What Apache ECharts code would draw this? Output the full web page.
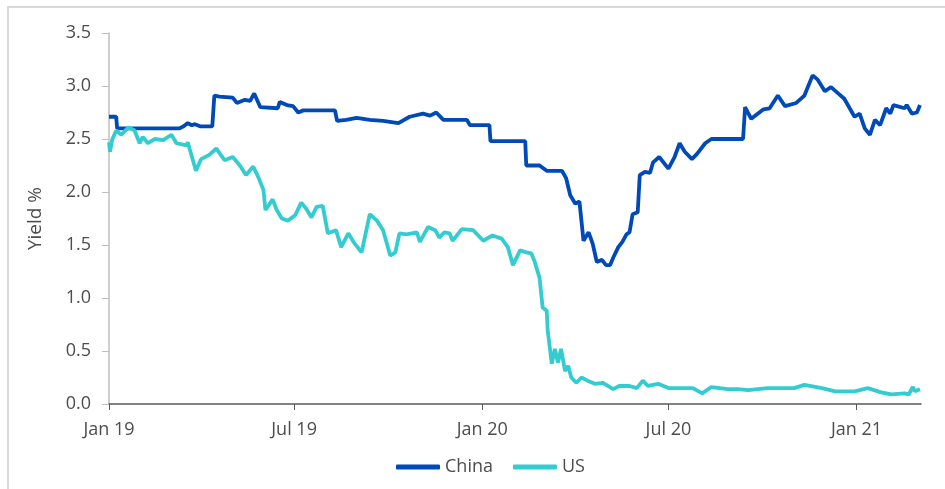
<!DOCTYPE html>
<html>
<head>
<meta charset="utf-8">
<script src="https://cdn.jsdelivr.net/npm/echarts@6/dist/echarts.min.js"></script>
<style>
  html, body { margin: 0; padding: 0; background: #fff; }
  #chart { width: 945px; height: 489px; }
</style>
</head>
<body>
<div id="chart"></div>
<script>
  // China yield (date, %)
  var chinaDates = ['2019-01-01','2019-01-08','2019-01-09','2019-03-11','2019-03-15','2019-03-19','2019-03-23','2019-03-26','2019-03-31','2019-04-12','2019-04-14','2019-04-19','2019-05-02','2019-05-06','2019-05-14','2019-05-19','2019-05-23','2019-05-29','2019-06-15','2019-06-17','2019-06-24','2019-06-30','2019-07-05','2019-07-10','2019-08-10','2019-08-12','2019-08-21','2019-08-31','2019-09-13','2019-09-26','2019-10-11','2019-10-22','2019-11-04','2019-11-11','2019-11-17','2019-11-24','2019-12-17','2019-12-20','2020-01-08','2020-01-09','2020-02-12','2020-02-13','2020-02-26','2020-03-04','2020-03-19','2020-03-23','2020-03-27','2020-04-01','2020-04-05','2020-04-09','2020-04-14','2020-04-18','2020-04-22','2020-04-27','2020-05-01','2020-05-05','2020-05-08','2020-05-13','2020-05-17','2020-05-21','2020-05-24','2020-05-27','2020-06-01','2020-06-03','2020-06-08','2020-06-13','2020-06-16','2020-06-22','2020-07-01','2020-07-07','2020-07-12','2020-07-17','2020-07-24','2020-07-29','2020-08-06','2020-08-12','2020-09-12','2020-09-14','2020-09-20','2020-10-02','2020-10-08','2020-10-16','2020-10-23','2020-11-03','2020-11-11','2020-11-19','2020-11-24','2020-12-01','2020-12-07','2020-12-14','2020-12-20','2020-12-30','2021-01-04','2021-01-09','2021-01-14','2021-01-19','2021-01-24','2021-01-30','2021-02-03','2021-02-06','2021-02-17','2021-02-19','2021-02-24','2021-03-01','2021-03-04'];
  var chinaValues = [2.71,2.71,2.60,2.60,2.62,2.65,2.63,2.64,2.62,2.62,2.91,2.90,2.89,2.84,2.87,2.86,2.93,2.80,2.79,2.85,2.82,2.81,2.75,2.77,2.77,2.67,2.68,2.70,2.68,2.67,2.65,2.71,2.74,2.72,2.75,2.68,2.68,2.63,2.63,2.48,2.48,2.25,2.25,2.20,2.20,2.13,1.97,1.89,1.91,1.54,1.62,1.51,1.34,1.36,1.31,1.31,1.38,1.48,1.53,1.60,1.62,1.79,1.81,2.16,2.19,2.18,2.28,2.33,2.22,2.33,2.46,2.38,2.31,2.36,2.46,2.50,2.50,2.80,2.69,2.78,2.79,2.91,2.81,2.84,2.91,3.10,3.06,2.95,2.99,2.93,2.88,2.71,2.74,2.60,2.54,2.68,2.63,2.79,2.74,2.82,2.79,2.82,2.74,2.75,2.82];

  // US yield (date, %)
  var usDates = ['2019-01-01','2019-01-02','2019-01-04','2019-01-08','2019-01-13','2019-01-20','2019-01-26','2019-01-31','2019-02-03','2019-02-08','2019-02-15','2019-02-23','2019-03-03','2019-03-08','2019-03-18','2019-03-19','2019-03-27','2019-04-01','2019-04-09','2019-04-16','2019-04-24','2019-05-02','2019-05-09','2019-05-15','2019-05-22','2019-05-27','2019-06-01','2019-06-03','2019-06-10','2019-06-14','2019-06-19','2019-06-25','2019-07-02','2019-07-08','2019-07-13','2019-07-18','2019-07-23','2019-07-29','2019-08-03','2019-08-11','2019-08-16','2019-08-23','2019-08-28','2019-09-05','2019-09-13','2019-09-20','2019-09-26','2019-10-03','2019-10-08','2019-10-12','2019-10-19','2019-10-29','2019-11-01','2019-11-09','2019-11-16','2019-11-20','2019-11-25','2019-11-30','2019-12-03','2019-12-12','2019-12-23','2020-01-02','2020-01-11','2020-01-20','2020-01-26','2020-01-31','2020-02-07','2020-02-13','2020-02-18','2020-02-21','2020-02-26','2020-02-29','2020-03-04','2020-03-05','2020-03-09','2020-03-12','2020-03-15','2020-03-18','2020-03-22','2020-03-25','2020-03-28','2020-04-02','2020-04-07','2020-04-13','2020-04-20','2020-04-28','2020-05-08','2020-05-14','2020-05-24','2020-05-31','2020-06-06','2020-06-11','2020-06-21','2020-07-01','2020-07-25','2020-08-03','2020-08-12','2020-08-28','2020-09-07','2020-09-17','2020-10-06','2020-10-19','2020-11-01','2020-11-11','2020-11-28','2020-12-11','2020-12-30','2021-01-12','2021-01-25','2021-02-04','2021-02-17','2021-02-21','2021-02-25','2021-02-27','2021-03-04'];
  var usValues = [2.47,2.38,2.49,2.58,2.54,2.61,2.58,2.46,2.52,2.46,2.50,2.49,2.54,2.46,2.44,2.47,2.20,2.31,2.35,2.41,2.30,2.33,2.25,2.16,2.24,2.14,2.02,1.83,1.93,1.83,1.75,1.73,1.78,1.90,1.84,1.76,1.86,1.87,1.61,1.64,1.48,1.61,1.53,1.43,1.79,1.73,1.64,1.40,1.43,1.61,1.60,1.62,1.53,1.67,1.64,1.57,1.62,1.61,1.54,1.65,1.64,1.54,1.59,1.56,1.48,1.31,1.45,1.43,1.42,1.35,1.19,0.91,0.88,0.69,0.38,0.52,0.39,0.52,0.31,0.36,0.25,0.20,0.25,0.22,0.19,0.20,0.14,0.17,0.17,0.15,0.22,0.17,0.19,0.15,0.15,0.10,0.16,0.14,0.14,0.13,0.15,0.15,0.15,0.18,0.15,0.12,0.12,0.15,0.11,0.09,0.10,0.09,0.16,0.12,0.14];

  // axis ticks
  var xTickDates = ['2019-01-01','2019-07-01','2020-01-01','2020-07-01','2021-01-01'];
  var xTickLabels = ['Jan 19','Jul 19','Jan 20','Jul 20','Jan 21'];
  var xMin = '2019-01-01';
  var xMax = '2021-03-05';
  var yTicks = [0, 0.5, 1.0, 1.5, 2.0, 2.5, 3.0, 3.5];

  function toTime(s) {
    var p = s.split('-');
    return Date.UTC(+p[0], +p[1] - 1, +p[2]);
  }
  function pairs(dates, values) {
    return dates.map(function (d, i) { return [toTime(d), values[i]]; });
  }

  var tickTimes = xTickDates.map(toTime);
  var font = 'Open Sans';
  var textColor = '#4d4d4d';

  var chart = echarts.init(document.getElementById('chart'));
  var option = {
    backgroundColor: '#fff',
    animation: false,
    graphic: [{
      type: 'rect',
      silent: true,
      shape: {x: 8, y: 7, width: 1200, height: 1200},
      style: {fill: 'none', stroke: '#d9d9d9', lineWidth: 2}
    }],
    grid: {left: 109, right: 24, top: 33, bottom: 85},
    legend: {
      data: ['China', 'US'],
      left: 391,
      top: 453,
      icon: 'roundRect',
      itemWidth: 44,
      itemHeight: 5,
      itemGap: 20,
      textStyle: {color: textColor, fontSize: 18, fontFamily: font}
    },
    xAxis: {
      type: 'value',
      min: toTime(xMin),
      max: toTime(xMax),
      axisLine: {lineStyle: {color: '#595959', width: 1.5}},
      axisTick: {
        show: true,
        customValues: tickTimes,
        length: 6,
        lineStyle: {color: '#595959', width: 1}
      },
      axisLabel: {
        customValues: tickTimes,
        margin: 17,
        color: textColor,
        fontSize: 18,
        fontFamily: font,
        formatter: function (v) {
          var i = tickTimes.indexOf(v);
          return i >= 0 ? xTickLabels[i] : '';
        }
      },
      splitLine: {show: false}
    },
    yAxis: {
      type: 'value',
      min: yTicks[0],
      max: yTicks[yTicks.length - 1],
      interval: 0.5,
      name: 'Yield %',
      nameLocation: 'middle',
      nameGap: 64,
      nameTextStyle: {color: textColor, fontSize: 19, fontFamily: font},
      axisLine: {show: true, lineStyle: {color: '#bfbfbf', width: 1.5}},
      axisTick: {show: true, length: 7, lineStyle: {color: '#bfbfbf'}},
      axisLabel: {
        margin: 18,
        color: textColor,
        fontSize: 18,
        fontFamily: font,
        formatter: function (v) { return v.toFixed(1); }
      },
      splitLine: {show: false}
    },
    series: [{
      name: 'China',
      type: 'line',
      data: pairs(chinaDates, chinaValues),
      showSymbol: false,
      color: '#0049B8',
      lineStyle: {width: 3.8, color: '#0049B8'}
    }, {
      name: 'US',
      type: 'line',
      data: pairs(usDates, usValues),
      showSymbol: false,
      color: '#33CCD0',
      lineStyle: {width: 3.8, color: '#33CCD0'}
    }]
  };
  chart.setOption(option);
</script>
</body>
</html>
